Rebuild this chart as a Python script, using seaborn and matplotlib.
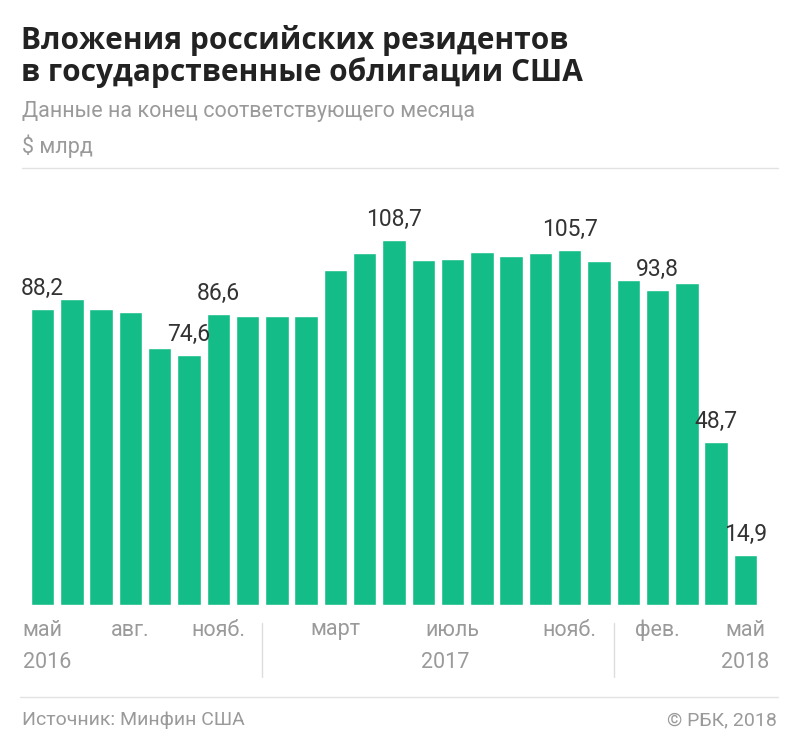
import matplotlib
matplotlib.use("Agg")
import matplotlib.pyplot as plt
import matplotlib.transforms as mtransforms
from matplotlib.lines import Line2D
import seaborn as sns
import pandas as pd

# data: end-of-month values, May 2016 .. May 2018, $ bn
months = ['2016-05', '2016-06', '2016-07', '2016-08', '2016-09', '2016-10', '2016-11', '2016-12',
          '2017-01', '2017-02', '2017-03', '2017-04', '2017-05', '2017-06', '2017-07', '2017-08',
          '2017-09', '2017-10', '2017-11', '2017-12', '2018-01', '2018-02', '2018-03', '2018-04',
          '2018-05']
values = [88.2, 91.1, 88.2, 87.4, 76.5, 74.6, 86.6, 86.2, 86.2, 86.2, 99.9, 104.8, 108.7,
          102.8, 103.2, 105.1, 104.0, 104.8, 105.7, 102.4, 96.7, 93.8, 95.8, 48.7, 14.9]
labeled = ['2016-05', '2016-10', '2016-11', '2017-05', '2017-11', '2018-02', '2018-04', '2018-05']
tick_months = ['2016-05', '2016-08', '2016-11', '2017-03', '2017-07', '2017-11', '2018-02', '2018-05']
tick_names = ['май', 'авг.', 'нояб.', 'март', 'июль', 'нояб.', 'фев.', 'май']
year_names = ['2016', '2017', '2018']
year_pos = [0.15, 13.75, 24]
sep_pos = [7.5, 19.5]

W, H = 800, 745
GREEN = '#14bd87'
GRAY = '#9a9a9a'

sns.set_style("white")
plt.rcParams['font.family'] = ['Roboto', 'DejaVu Sans']

def fx(px):
    return px / W

def fy(py):
    return 1 - py / H

fig = plt.figure(figsize=(W / 100, H / 100), dpi=100)
fig.patch.set_facecolor('white')
ax = fig.add_axes([fx(28), fy(605), 732 / W, 435 / H])

df = pd.DataFrame({'month': months, 'value': values})
sns.barplot(data=df, x='month', y='value', order=months, color=GREEN,
            saturation=1, width=0.8, ax=ax)
ax.set_xlim(-0.5, len(months) - 0.5)
ax.set_ylim(0, 435 / 3.356)
sns.despine(ax=ax, left=True, bottom=True)
ax.set_xticks([])
ax.set_yticks([])
ax.set_xlabel('')
ax.set_ylabel('')

# value labels
for m in labeled:
    i = months.index(m)
    v = values[i]
    ax.annotate(f'{v:.1f}'.replace('.', ','), (i, v), xytext=(0, 14),
                textcoords='offset pixels', ha='center', va='baseline',
                fontsize=16.5, color='#333333')

# month / year labels under the bars
tr = mtransforms.blended_transform_factory(ax.transData, fig.transFigure)
for m, name in zip(tick_months, tick_names):
    ax.text(months.index(m), fy(630), name, transform=tr, ha='center', va='center',
            fontsize=15.5, color=GRAY)
for p, name in zip(year_pos, year_names):
    ax.text(p, fy(663), name, transform=tr, ha='center', va='center',
            fontsize=15.5, color=GRAY)
for s in sep_pos:
    fig.add_artist(Line2D([s, s], [fy(623), fy(677)], transform=tr, color='#dddddd', lw=1))

# header
title_font = ['Open Sans', 'Roboto', 'DejaVu Sans']
fig.text(fx(21), fy(40), 'Вложения российских резидентов', fontsize=21.5, family=title_font,
         fontweight='bold', color='#222222', va='center')
fig.text(fx(21), fy(73), 'в государственные облигации США', fontsize=21.5, family=title_font,
         fontweight='bold', color='#222222', va='center')
fig.text(fx(22), fy(111), 'Данные на конец соответствующего месяца', fontsize=15.5,
         color=GRAY, va='center')
fig.text(fx(22), fy(146), '$ млрд', fontsize=15.5, color=GRAY, va='center')
fig.add_artist(Line2D([fx(22), fx(778)], [fy(168), fy(168)], color='#e2e2e2', lw=1))

# footer
fig.add_artist(Line2D([fx(20), fx(778)], [fy(697), fy(697)], color='#e2e2e2', lw=1))
fig.text(fx(22), fy(720), 'Источник: Минфин США', fontsize=14, color=GRAY, va='center')
fig.text(fx(777), fy(720), '© РБК, 2018', fontsize=14, color=GRAY, va='center', ha='right')

fig.savefig('out.png', dpi=100, facecolor='white')
